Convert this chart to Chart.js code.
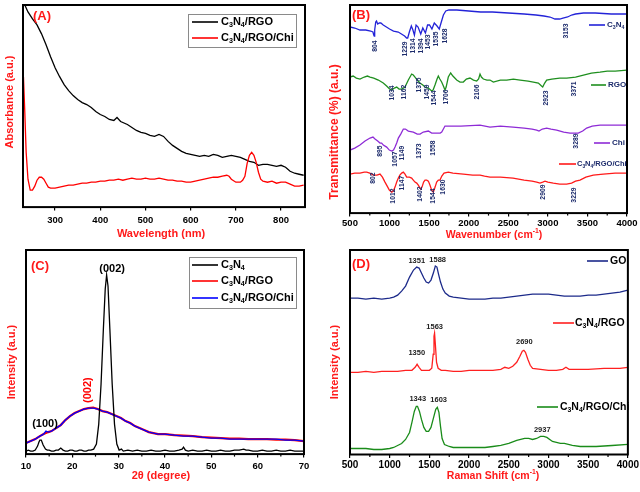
<!DOCTYPE html>
<html><head><meta charset="utf-8">
<script src="https://cdn.jsdelivr.net/npm/chart.js@4.4.1/dist/chart.umd.min.js"></script>
<style>
html,body{margin:0;padding:0;background:#fff;}
#wrap{position:relative;width:640px;height:492px;overflow:hidden;background:#fff;}
canvas{position:absolute;}
</style></head><body>
<div id="wrap">
<canvas id="cA" width="320" height="246" style="left:0;top:0"></canvas>
<canvas id="cB" width="320" height="246" style="left:320px;top:0"></canvas>
<canvas id="cC" width="320" height="246" style="left:0;top:246px"></canvas>
<canvas id="cD" width="320" height="246" style="left:320px;top:246px"></canvas>
</div>
<script>
// ---------------- DATA ----------------
// (A) UV-vis absorbance, wavelength (nm) / absorbance (a.u.)
const aWaveRGO = [230,233,240,250,260,270,280,290,300,310,320,330,340,350,360,370,380,390,400,410,420,430,437,445,460,470,480,490,500,510,520,530,540,550,560,570,580,590,600,610,620,630,640,650,660,670,680,690,700,710,720,730,740,750,760,770,780,790,800,810,820,830,840,850];
const aAbsRGO  = [206,203,196,189,183,174,163,151,140,131,123,117,112,108,105,103,100,96,93,91,88,87,90,86,83,80,77,75,74,72,71,73,71,66,62,59,56,54,53,52,51,52,51,53,52,50,51,52,51,50,48,46,45,42,43,43,42,41,42,40,36,34,33,32];
const aWaveChi = [230,233,236,240,245,250,255,260,265,270,275,280,285,290,300,310,320,330,340,350,360,370,380,390,400,410,420,430,440,450,460,470,480,490,500,510,520,530,540,550,560,570,580,590,600,610,620,630,640,650,660,670,680,685,690,700,710,715,720,725,730,735,740,745,750,755,760,770,780,790,800,810,820,830,840,850];
const aAbsChi  = [131,95,55,28,17,17,21,27,30,30,28,24,20,19,19,20,21,22,22,23,24,24,25,25,26,26,27,27,28,27,28,29,28,28,29,28,28,29,28,27,27,26,26,25,25,26,27,28,29,30,30,31,32,31,28,25,25,27,31,44,52,55,52,45,35,28,26,25,26,24,25,25,23,21,21,22];
const aTicks = [300,400,500,600,700,800];

// (B) FTIR, [wavenumber (cm-1), transmittance (a.u.)]
const bC3N4 = [[500,186],[560,185],[626,183],[700,183],[760,182],[790,181],[800,178],[806,177],[812,183],[825,191],[835,192],[850,189],[870,190],[890,190],[920,188],[960,186],[1000,184],[1050,182],[1110,181],[1150,179],[1190,177],[1215,175],[1229,175],[1250,181],[1275,187],[1295,183],[1314,178],[1335,188],[1360,186],[1394,179],[1420,185],[1453,180],[1480,188],[1505,188],[1535,184],[1565,190],[1600,187],[1628,184],[1650,190],[1680,198],[1710,202],[1750,203],[1850,203],[2000,202],[2150,201],[2300,201],[2500,200],[2700,199],[2850,198],[2950,197],[3027,196],[3090,194],[3150,194],[3191,195],[3250,196],[3300,198],[3350,199],[3450,200],[3600,200],[3800,199],[4000,199]];
const bRGO = [[500,136],[540,137],[580,135],[626,134],[680,136],[720,137],[753,136],[800,135],[858,133],[920,130],[963,127],[1000,124],[1027,123],[1060,125],[1090,126],[1120,124],[1153,124],[1195,126],[1237,133],[1279,139],[1300,138],[1321,136],[1350,133],[1384,130],[1420,128],[1448,126],[1490,125],[1532,122],[1550,123],[1574,128],[1600,134],[1616,137],[1635,134],[1658,131],[1680,127],[1700,123],[1715,126],[1742,136],[1772,140],[1800,137],[1848,133],[1890,131],[1932,131],[1970,134],[2016,135],[2060,133],[2101,132],[2125,134],[2143,139],[2160,136],[2185,134],[2230,133],[2269,133],[2311,131],[2400,133],[2480,133],[2564,134],[2650,133],[2750,132],[2817,131],[2880,130],[2920,127],[2935,126],[2960,130],[2985,133],[3050,134],[3150,135],[3238,135],[3350,136],[3450,138],[3550,140],[3659,141],[3750,142],[3850,142],[4000,143]];
const bChi = [[500,63],[560,65],[626,68],[690,72],[753,75],[790,76],[816,74],[850,72],[879,70],[900,70],[921,68],[963,66],[997,63],[1027,62],[1050,63],[1069,66],[1090,70],[1111,75],[1141,79],[1174,84],[1200,84],[1237,82],[1300,81],[1350,79],[1385,79],[1426,81],[1490,82],[1532,80],[1560,80],[1595,80],[1640,80],[1659,81],[1680,84],[1700,87],[1764,87],[1900,87],[2143,88],[2269,86],[2400,87],[2560,86],[2700,85],[2800,84],[2859,83],[2888,82],[2930,84],[2985,85],[3040,84],[3111,83],[3200,81],[3280,80],[3330,80],[3385,80],[3440,82],[3490,85],[3560,87],[3659,88],[3800,88],[4000,88]];
const bC3N4RGOChi = [[500,39],[560,40],[626,40],[680,41],[711,41],[750,40],[795,38],[840,38],[879,39],[910,36],[942,31],[970,27],[997,23],[1027,21],[1047,22],[1069,26],[1090,31],[1111,35],[1130,38],[1153,40],[1174,41],[1195,39],[1216,36],[1250,36],[1279,35],[1300,33],[1321,31],[1343,30],[1363,28],[1393,24],[1410,26],[1430,31],[1448,33],[1470,33],[1490,32],[1510,28],[1532,23],[1553,21],[1575,26],[1595,31],[1616,33],[1637,33],[1660,37],[1688,40],[1742,41],[1800,40],[1932,39],[2050,38],[2143,38],[2200,37],[2269,36],[2400,36],[2560,35],[2700,33],[2800,32],[2859,31],[2901,30],[2935,31],[2964,32],[3000,31],[3069,30],[3150,29],[3237,29],[3300,30],[3350,32],[3406,33],[3480,36],[3574,38],[3700,39],[3850,40],[4000,40]];
const bTicks = [500,1000,1500,2000,2500,3000,3500,4000];
const bMinor = [750,1250,1750,2250,2750,3250,3750];
// FTIR band labels: [wavenumber, level, text]
const bBands = [
 [816,167,'804'],[1195,164,'1229'],[1300,167,'1314'],[1393,167,'1394'],[1490,171,'1453'],[1587,174,'1535'],[1700,177,'1628'],[3230,182,'3153'],
 [1027,120,'1034'],[1182,121,'1162'],[1376,128,'1375'],[1469,121,'1459'],[1565,115,'1544'],[1713,116,'1706'],[2109,121,'2106'],[2973,115,'2923'],[3330,124,'3371'],
 [879,62,'895'],[1069,54,'1057'],[1153,60,'1149'],[1372,62,'1373'],[1553,65,'1558'],[3356,72,'3289'],
 [795,35,'802'],[1047,17,'1012'],[1153,30,'1147'],[1385,19,'1402'],[1545,17,'1544'],[1679,26,'1630'],[2935,21,'2909'],[3330,18,'3229']
];

// (C) XRD, [2theta (deg), intensity (a.u.)]
const cC3N4 = [[10,3],[10.5,4],[11,3],[11.5,3],[12,4],[12.5,8],[12.8,12],[13,14],[13.3,14],[13.7,9],[14.2,5],[14.6,4],[15,4],[15.5,3],[16,3],[16.5,4],[17,4],[17.5,6],[18,4],[18.5,3],[19,3],[19.5,4],[20,4],[20.5,3],[21,3],[21.5,4],[22,4],[22.5,3],[23,3],[23.5,4],[24,4],[24.6,5],[25.2,10],[25.7,30],[26.2,70],[26.7,125],[27.1,165],[27.4,179],[27.7,168],[28.1,125],[28.6,70],[29.1,30],[29.6,10],[30.1,4],[30.6,5],[31,3],[32,4],[33,3],[34,4],[35,3],[36,3],[37,4],[38,3],[39,3],[40,4],[41,3],[42,3],[43,4],[43.7,5],[44,7],[44.4,4],[45,3],[46,4],[47,3],[48,3],[49,4],[50,3],[51,3],[52,4],[53,3],[54,3],[55,4],[56,4],[57,5],[57.5,4],[58,4],[59,3],[60,3],[61,4],[62,3],[63,3],[64,4],[65,3],[66,3],[67,4],[68,3],[69,3],[70,3]];
const cC3N4RGO = [[10,11],[11,13],[12,15],[13,18],[13.8,20],[14.3,21],[14.8,22],[15.5,23],[16.5,26],[17.5,29],[18.5,34],[19.5,38],[20.5,41],[21.5,43],[22.5,45],[23.5,46],[24.5,46.5],[25.5,45],[26.5,43],[27.5,42],[28.5,40],[29.5,38],[30.5,36],[31.5,33],[32.5,31],[33.5,28],[34.5,26],[35.5,24],[36.5,22],[37.5,21],[38.5,20],[40,20],[42,19],[44,18.5],[46,18],[48,17],[50,16.5],[52,16],[54,15.5],[56,15.5],[58,15],[60,15],[62,15],[64,14.5],[66,14.5],[68,14],[70,13]];
const cC3N4RGOChi = [[10,11],[11,13],[12,15],[13,18],[13.8,20],[14.3,23],[14.8,22],[15.5,23],[16.5,26],[17.5,29],[18.5,34],[19.5,38],[20.5,41],[21.5,43],[22.5,45],[23.5,46],[24.5,46],[25.5,45],[26.5,43],[27.5,42],[28.5,40],[29.5,38],[30.5,36],[31.5,33],[32.5,31],[33.5,28],[34.5,26],[35.5,24],[36.5,22],[37.5,21],[38.5,20],[40,20],[42,19],[44,18],[46,18],[48,17],[50,16],[52,16],[54,15],[56,15],[58,15],[60,15],[62,15],[64,15],[66,14],[68,14],[70,13]];
const cTicks = [10,20,30,40,50,60,70];
const cMinor = [15,25,35,45,55,65];
const cPeaks = [[28.6,185,'(002)','#000000',0],[14.1,30,'(100)','#000000',0],[23.4,64,'(002)','#ff0000',1]];

// (D) Raman, [Raman shift (cm-1), intensity (a.u.)]
const dGO = [[500,156],[600,156],[700,155],[800,156],[900,155],[1000,156],[1050,157],[1100,159],[1150,163],[1200,168],[1250,177],[1300,184],[1340,187],[1370,186],[1400,181],[1430,176],[1460,172],[1490,171],[1520,174],[1550,181],[1575,188],[1595,187],[1615,180],[1640,172],[1670,165],[1700,161],[1750,158],[1800,157],[1900,156],[2000,155],[2100,155],[2200,155],[2300,156],[2400,156],[2500,157],[2600,158],[2700,159],[2800,160],[2900,160],[3000,160],[3100,159],[3200,158],[3300,158],[3400,158],[3500,159],[3600,159],[3700,160],[3800,161],[3900,162],[4000,164]];
const dC3N4RGO = [[500,82],[600,82],[700,83],[800,82],[900,83],[1000,83],[1100,83],[1200,84],[1280,84],[1320,87],[1345,90],[1370,87],[1400,84],[1450,84],[1500,84],[1530,86],[1548,100],[1558,118],[1565,121],[1575,110],[1590,92],[1610,86],[1650,84],[1700,84],[1800,83],[1900,83],[2000,84],[2100,84],[2200,84],[2300,84],[2400,85],[2450,87],[2500,86],[2550,88],[2600,92],[2640,98],[2670,103],[2690,104],[2710,102],[2740,95],[2770,89],[2800,86],[2900,85],[3000,84],[3100,84],[3180,85],[3220,87],[3260,85],[3300,85],[3500,85],[3700,86],[3900,86],[4000,87]];
const dC3N4RGOChi = [[500,6],[600,6],[700,6],[800,5],[900,5],[1000,6],[1050,7],[1100,9],[1150,11],[1200,15],[1250,22],[1280,32],[1310,43],[1335,48],[1350,48],[1375,43],[1400,35],[1430,27],[1460,23],[1490,23],[1520,27],[1550,36],[1580,45],[1600,47],[1620,42],[1640,28],[1660,16],[1690,10],[1750,8],[1800,7],[1900,7],[2000,7],[2100,7],[2200,7],[2300,8],[2400,9],[2500,11],[2600,14],[2650,15],[2700,16],[2750,16],[2800,15],[2850,16],[2900,18],[2940,18],[2980,17],[3050,13],[3150,11],[3200,11],[3250,10],[3300,9],[3400,8],[3600,8],[3800,9],[4000,10]];
const dTicks = [500,1000,1500,2000,2500,3000,3500,4000];
const dMinor = [750,1250,1750,2250,2750,3250,3750];
const dPeaks = [[1341,193,'1351'],[1604,194,'1588'],[1566,127,'1563'],[1341,101,'1350'],[2696,112,'2690'],[1353,55,'1343'],[1617,54,'1603'],[2922,25,'2937']];

// ---------------- DRAWING ----------------
const FONT = "'Liberation Sans', Arial, Helvetica, sans-serif";
const RED = '#ff1a1a';

function parseRich(s){
  const out=[]; let i=0, buf='';
  while(i<s.length){
    const ch=s[i];
    if((ch==='_'||ch==='^') && s[i+1]==='{'){
      if(buf){out.push({t:buf,m:0});buf='';}
      const j=s.indexOf('}',i);
      out.push({t:s.slice(i+2,j),m:ch==='_'?-1:1});
      i=j+1;
    } else {buf+=ch;i++;}
  }
  if(buf) out.push({t:buf,m:0});
  return out;
}
function drawRich(ctx,s,x,y,o){
  const size=o.size, weight=o.weight||'bold';
  const segs=parseRich(s);
  const f=m=>weight+' '+(m?size*0.65:size)+'px '+FONT;
  let w=0;
  segs.forEach(g=>{ctx.font=f(g.m); g.w=ctx.measureText(g.t).width; w+=g.w;});
  let cx=o.align==='center'?x-w/2:(o.align==='right'?x-w:x);
  ctx.fillStyle=o.color; ctx.textBaseline='middle'; ctx.textAlign='left';
  segs.forEach(g=>{ctx.font=f(g.m); const dy=g.m===-1?size*0.32:(g.m===1?-size*0.33:0); ctx.fillText(g.t,cx,y+dy); cx+=g.w;});
}

function decor(cfg){
  return {id:'decor',afterDraw(chart){
    const c=chart.ctx, a=chart.chartArea, xs=chart.scales.x, ys=chart.scales.y;
    c.save();
    c.strokeStyle='#000'; c.lineWidth=1.2;
    (cfg.minor||[]).forEach(v=>{const px=xs.getPixelForValue(v); c.beginPath(); c.moveTo(px,a.bottom); c.lineTo(px,a.bottom+2.5); c.stroke();});
    c.lineWidth=2; c.strokeRect(a.left,a.top,a.right-a.left,a.bottom-a.top);
    const L=cfg.letter; drawRich(c,L.t,L.x,L.y,{size:13,color:RED,align:'center'});
    const X=cfg.xTitle; drawRich(c,X.t,X.x,X.y,{size:X.size,color:RED,align:'center'});
    const Y=cfg.yTitle; c.save(); c.translate(Y.x,Y.y); c.rotate(-Math.PI/2); drawRich(c,Y.t,0,0,{size:Y.size,color:RED,align:'center'}); c.restore();
    if(cfg.legend){
      const g=cfg.legend;
      if(g.box){c.fillStyle='#fff'; c.fillRect(g.box[0],g.box[1],g.box[2],g.box[3]); c.strokeStyle='#8a8a8a'; c.lineWidth=1; c.strokeRect(g.box[0]+0.5,g.box[1]+0.5,g.box[2],g.box[3]);}
      g.items.forEach(it=>{c.strokeStyle=it.c; c.lineWidth=1.6; c.beginPath(); c.moveTo(it.x1,it.y); c.lineTo(it.x2,it.y); c.stroke();
        drawRich(c,it.t,it.tx,it.y,{size:it.size,color:it.tc||'#000',align:'left'});});
    }
    (cfg.notes||[]).forEach(n=>{
      const px=xs.getPixelForValue(n.x), py=ys.getPixelForValue(n.y);
      if(n.rot){c.save(); c.translate(px,py); c.rotate(-Math.PI/2); drawRich(c,n.t,0,0,{size:n.size,color:n.color,align:'center',weight:n.weight}); c.restore();}
      else drawRich(c,n.t,px,py,{size:n.size,color:n.color,align:'center',weight:n.weight});
    });
    c.restore();
  }};
}

function pts(xsArr,ysArr){return xsArr.map((v,i)=>({x:v,y:ysArr[i]}));}
function pairs(arr){return arr.map(p=>({x:p[0],y:p[1]}));}

function build(id,cfg){
  return new Chart(document.getElementById(id),{
    type:'line',
    data:{datasets:cfg.series.map((s,i)=>({data:s.data,borderColor:s.color,borderWidth:s.width||1.3,pointRadius:0,fill:false,tension:0,order:(s.order!==undefined?s.order:i)}))},
    options:{
      responsive:false, animation:false, devicePixelRatio:1, parsing:false,
      layout:{padding:cfg.padding},
      plugins:{legend:{display:false},tooltip:{enabled:false}},
      scales:{
        x:{type:'linear',min:cfg.xMin,max:cfg.xMax,
          afterBuildTicks:ax=>{ax.ticks=cfg.ticks.map(v=>({value:v}));},
          ticks:{autoSkip:false,maxRotation:0,color:'#000',padding:cfg.tickPad,font:{family:FONT,size:cfg.tickSize||9.5,weight:'bold'},callback:v=>String(v)},
          grid:{display:true,drawOnChartArea:false,drawTicks:true,tickLength:3.5,color:'#000',lineWidth:1.2},
          border:{display:false}},
        y:{type:'linear',display:false,min:0,max:cfg.yMax}
      }
    },
    plugins:[decor(cfg)]
  });
}

// Panel A (lower order = drawn on top)
build('cA',{
  xMin:229,xMax:853,yMax:203,ticks:aTicks,tickPad:4.5,
  padding:{left:23,right:15,top:5,bottom:15},
  series:[{data:pts(aWaveRGO,aAbsRGO),color:'#000000',order:1},{data:pts(aWaveChi,aAbsChi),color:'#ff0000',order:0}],
  letter:{t:'(A)',x:42,y:16},
  xTitle:{t:'Wavelength (nm)',x:161,y:234,size:11},
  yTitle:{t:'Absorbance (a.u.)',x:10,y:102,size:11},
  legend:{box:[188,14,108,33],items:[
    {t:'C_{3}N_{4}/RGO',c:'#000000',x1:192,x2:218,y:22,tx:221,size:11},
    {t:'C_{3}N_{4}/RGO/Chi',c:'#ff0000',x1:192,x2:218,y:38,tx:221,size:11}]}
});

// Panel B
const bNavy='#1b2a6b';
build('cB',{
  xMin:500,xMax:4000,yMax:208,ticks:bTicks,minor:bMinor,tickPad:1.5,
  padding:{left:30,right:13,top:5,bottom:15},
  series:[{data:pairs(bC3N4),color:'#2323d8'},{data:pairs(bRGO),color:'#1f8f1f'},{data:pairs(bChi),color:'#8e2bd6'},{data:pairs(bC3N4RGOChi),color:'#ff1a1a'}],
  letter:{t:'(B)',x:41,y:15},
  xTitle:{t:'Wavenumber (cm^{-1})',x:174,y:235,size:10.5},
  yTitle:{t:'Transmittance (%) (a.u.)',x:15,y:132,size:12},
  legend:{items:[
    {t:'C_{3}N_{4}',c:'#2323d8',x1:269,x2:285,y:25,tx:287,size:8,tc:bNavy},
    {t:'RGO',c:'#1f8f1f',x1:271,x2:286,y:85,tx:288,size:8,tc:bNavy},
    {t:'Chi',c:'#8e2bd6',x1:274,x2:290,y:143,tx:292,size:8,tc:bNavy},
    {t:'C_{3}N_{4}/RGO/Chi',c:'#ff1a1a',x1:239,x2:256,y:164,tx:257,size:7.5,tc:bNavy}]},
  notes:bBands.map(b=>({x:b[0],y:b[1],t:b[2],rot:1,size:6.8,color:bNavy,weight:'bold'}))
});

// Panel C
build('cC',{
  xMin:10,xMax:70,yMax:204,ticks:cTicks,minor:cMinor,tickPad:3,
  padding:{left:26,right:16,top:4,bottom:17},
  series:[{data:pairs(cC3N4),color:'#000000',order:0},{data:pairs(cC3N4RGO),color:'#ff0000',width:2.2,order:2},{data:pairs(cC3N4RGOChi),color:'#0000ff',width:1.4,order:1}],
  letter:{t:'(C)',x:40,y:20},
  xTitle:{t:'2θ (degree)',x:161,y:230,size:11},
  yTitle:{t:'Intensity (a.u.)',x:12,y:116,size:11},
  legend:{box:[189,11,107,51],items:[
    {t:'C_{3}N_{4}',c:'#000000',x1:192,x2:218,y:19,tx:221,size:11},
    {t:'C_{3}N_{4}/RGO',c:'#ff0000',x1:192,x2:218,y:35,tx:221,size:11},
    {t:'C_{3}N_{4}/RGO/Chi',c:'#0000ff',x1:192,x2:218,y:52,tx:221,size:11}]},
  notes:cPeaks.map(p=>({x:p[0],y:p[1],t:p[2],color:p[3],rot:p[4],size:11,weight:'bold'}))
});

// Panel D
build('cD',{
  xMin:500,xMax:4000,yMax:204,ticks:dTicks,minor:dMinor,tickPad:1,tickSize:10,
  padding:{left:30,right:11,top:4,bottom:20},
  series:[{data:pairs(dGO),color:'#1c2a8a'},{data:pairs(dC3N4RGO),color:'#ff2020'},{data:pairs(dC3N4RGOChi),color:'#1a8c1a'}],
  letter:{t:'(D)',x:41,y:18},
  xTitle:{t:'Raman Shift (cm^{-1})',x:173,y:230,size:10.5},
  yTitle:{t:'Intensity (a.u.)',x:15,y:116,size:11},
  legend:{items:[
    {t:'GO',c:'#1c2a8a',x1:267,x2:288,y:15,tx:290,size:10.5},
    {t:'C_{3}N_{4}/RGO',c:'#ff2020',x1:233,x2:254,y:77,tx:255,size:10.5},
    {t:'C_{3}N_{4}/RGO/Chi',c:'#1a8c1a',x1:217,x2:238,y:161,tx:240,size:10.5}]},
  notes:dPeaks.map(p=>({x:p[0],y:p[1],t:p[2],color:'#222222',size:7.5,weight:'bold'}))
});
</script>
</body></html>
